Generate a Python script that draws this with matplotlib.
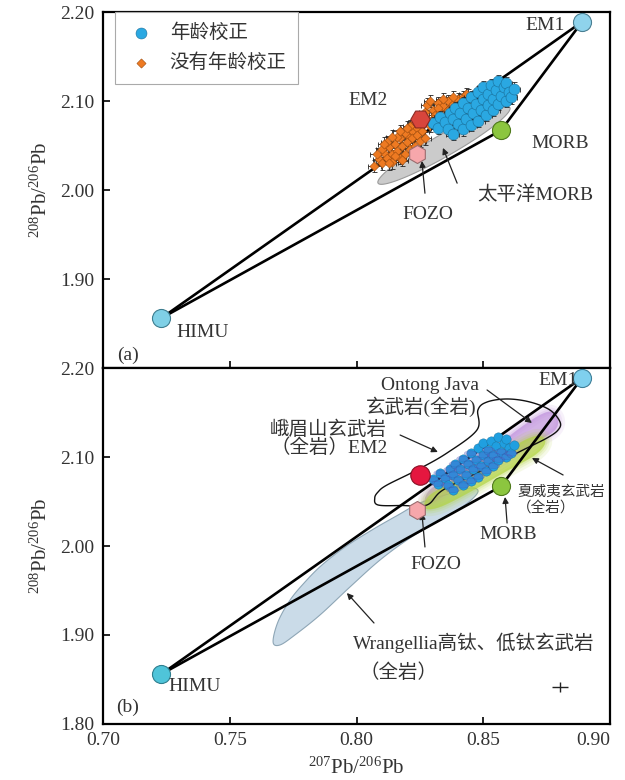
import numpy as np
import matplotlib.pyplot as plt
from matplotlib.patches import Polygon, Ellipse

plt.rcParams['font.family'] = ['Liberation Serif', 'Noto Sans CJK SC']
plt.rcParams['mathtext.fontset'] = 'custom'
plt.rcParams['mathtext.rm'] = 'Liberation Serif'
plt.rcParams['mathtext.it'] = 'Liberation Serif:italic'

TXT = '#333333'

# end members (207Pb/206Pb, 208Pb/206Pb)
em1 = (0.889, 2.189)
himu = (0.723, 1.856)
morb = (0.857, 2.067)
em2 = (0.825, 2.080)
fozo = (0.824, 2.041)

# samples without age correction
raw_x = [0.807, 0.809, 0.810, 0.811, 0.812, 0.813, 0.814, 0.814, 0.815, 0.816,
         0.817, 0.817, 0.818, 0.819, 0.820, 0.820, 0.821, 0.822, 0.822, 0.823,
         0.824, 0.824, 0.825, 0.826, 0.826, 0.827, 0.828, 0.828, 0.829, 0.830,
         0.831, 0.832, 0.833, 0.834, 0.835, 0.836, 0.837, 0.838, 0.839, 0.840,
         0.841, 0.842, 0.843, 0.844, 0.845, 0.846,
         0.808, 0.810, 0.812, 0.813, 0.815, 0.816, 0.818, 0.819, 0.821, 0.823,
         0.825, 0.827, 0.829, 0.830, 0.832, 0.834, 0.836, 0.838, 0.840, 0.843,
         0.845, 0.811, 0.814, 0.817, 0.820, 0.823]
raw_y = [2.027, 2.035, 2.030, 2.042, 2.036, 2.048, 2.031, 2.040, 2.052, 2.044,
         2.036, 2.058, 2.049, 2.040, 2.062, 2.054, 2.046, 2.066, 2.058, 2.050,
         2.070, 2.062, 2.055, 2.074, 2.066, 2.088, 2.080, 2.096, 2.072, 2.090,
         2.084, 2.098, 2.088, 2.094, 2.083, 2.100, 2.092, 2.097, 2.088, 2.102,
         2.095, 2.104, 2.098, 2.106, 2.100, 2.103,
         2.040, 2.046, 2.054, 2.030, 2.038, 2.060, 2.034, 2.064, 2.072, 2.042,
         2.078, 2.058, 2.100, 2.080, 2.092, 2.102, 2.090, 2.104, 2.094, 2.108,
         2.094, 2.052, 2.060, 2.066, 2.070, 2.076]

# age corrected samples
cor_x = [0.830, 0.832, 0.833, 0.835, 0.836, 0.837, 0.838, 0.838, 0.839, 0.840,
         0.841, 0.842, 0.842, 0.843, 0.844, 0.845, 0.845, 0.846, 0.847, 0.848,
         0.848, 0.849, 0.850, 0.850, 0.851, 0.852, 0.852, 0.853, 0.854, 0.854,
         0.855, 0.856, 0.856, 0.857, 0.858, 0.859, 0.859, 0.860, 0.861, 0.862]
cor_y = [2.075, 2.070, 2.082, 2.076, 2.068, 2.086, 2.063, 2.080, 2.092, 2.074,
         2.086, 2.068, 2.098, 2.080, 2.092, 2.073, 2.104, 2.086, 2.097, 2.078,
         2.110, 2.090, 2.102, 2.116, 2.084, 2.096, 2.108, 2.118, 2.090, 2.102,
         2.112, 2.122, 2.097, 2.106, 2.116, 2.100, 2.120, 2.110, 2.104, 2.114]

# comparison fields (outlines)
emeishan = [(0.8085, 2.0461), (0.8072, 2.0539), (0.8085, 2.0607), (0.8120, 2.0685),
            (0.8239, 2.0854), (0.8357, 2.1045), (0.8475, 2.1303), (0.8479, 2.1528),
            (0.8515, 2.1618), (0.8594, 2.1652), (0.8684, 2.1618), (0.8763, 2.1528),
            (0.8803, 2.1393), (0.8795, 2.1303), (0.8751, 2.1213), (0.8657, 2.1079),
            (0.8499, 2.0854), (0.8341, 2.0629), (0.8278, 2.0461), (0.8180, 2.0455)]
ontong = [(0.8270, 2.0517), (0.8298, 2.0652), (0.8408, 2.0854), (0.8546, 2.1112),
          (0.8645, 2.1326), (0.8724, 2.1472), (0.8771, 2.1506), (0.8795, 2.1416),
          (0.8783, 2.1303), (0.8724, 2.1191), (0.8606, 2.1000), (0.8487, 2.0798),
          (0.8369, 2.0607), (0.8298, 2.0483)]
hawaii = [(0.8270, 2.0427), (0.8290, 2.0573), (0.8408, 2.0764), (0.8546, 2.0989),
          (0.8665, 2.1191), (0.8724, 2.1236), (0.8744, 2.1157), (0.8704, 2.1022),
          (0.8586, 2.0831), (0.8448, 2.0607), (0.8329, 2.0438)]
wrangellia = [(0.7671, 1.8921), (0.7690, 1.9146), (0.7738, 1.9393), (0.7797, 1.9596),
              (0.7864, 1.9787), (0.7955, 1.9989), (0.8061, 2.0180), (0.8164, 2.0348),
              (0.8250, 2.0483), (0.8349, 2.0573), (0.8448, 2.0652), (0.8479, 2.0607),
              (0.8428, 2.0461), (0.8329, 2.0292), (0.8211, 2.0090), (0.8093, 1.9843),
              (0.7974, 1.9539), (0.7856, 1.9225), (0.7757, 1.9000), (0.7698, 1.8888)]
pac_morb = [(0.8085, 2.0077), (0.8605, 2.0926)]

fig = plt.figure(figsize=(6.25, 7.8), dpi=100)
ax1 = fig.add_axes([0.1648, 0.5282, 0.8112, 0.4564])
ax2 = fig.add_axes([0.1648, 0.0718, 0.8112, 0.4564])

for ax in (ax1, ax2):
    ax.set_xlim(0.70, 0.90)
    ax.set_ylim(1.80, 2.20)
    ax.set_xticks([0.70, 0.75, 0.80, 0.85, 0.90])
    ax.set_yticks([1.80, 1.90, 2.00, 2.10, 2.20])
    ax.tick_params(direction='in', length=5, width=1.2, labelsize=14,
                   labelcolor=TXT, pad=6)
    for s in ax.spines.values():
        s.set_linewidth(1.6)
    ax.set_ylabel(r'$^{208}$Pb/$^{206}$Pb', fontsize=15, color=TXT, labelpad=6)

ax1.set_yticklabels(['', '1.90', '2.00', '2.10', '2.20'])
ax1.set_xticklabels([])
ax2.set_yticklabels(['1.80', '1.90', '2.00', '2.10', '2.20'])
ax2.set_xticklabels(['0.70', '0.75', '0.80', '0.85', '0.90'])
ax2.get_xticklabels()[-1].set_ha('right')
ax2.set_xlabel(r'$^{207}$Pb/$^{206}$Pb', fontsize=15, color=TXT, labelpad=6)


def smooth(pts, n=14):
    # closed Catmull-Rom curve through the outline points
    p = np.asarray(pts)
    N = len(p)
    t = np.linspace(0, 1, n, endpoint=False)[:, None]
    out = []
    for i in range(N):
        p0, p1, p2, p3 = p[i - 1], p[i], p[(i + 1) % N], p[(i + 2) % N]
        out.append(0.5 * (2 * p1 + (-p0 + p2) * t
                          + (2 * p0 - 5 * p1 + 4 * p2 - p3) * t ** 2
                          + (-p0 + 3 * p1 - 3 * p2 + p3) * t ** 3))
    return np.vstack(out)


def ellipse_poly(ax, p0, p1, half_w, n=120):
    # ellipse between two data points, thickness given in pixels
    a, b = ax.transData.transform([p0, p1])
    c = (a + b) / 2
    d = b - a
    L = np.hypot(*d)
    u = d / L
    v = np.array([-u[1], u[0]])
    t = np.linspace(0, 2 * np.pi, n)
    pts = c + np.outer(L / 2 * np.cos(t), u) + np.outer(half_w * np.sin(t), v)
    return ax.transData.inverted().transform(pts)


def soft_field(ax, pts, color, z):
    # fuzzy-edged colour field
    for lw, a in [(10, 0.12), (6, 0.15), (3, 0.2), (0, 0.45)]:
        ax.add_patch(Polygon(smooth(pts), closed=True, facecolor=color,
                             edgecolor=color, lw=lw, alpha=a, zorder=z))


def triangle(ax):
    ax.plot([himu[0], em1[0]], [himu[1], em1[1]], color='k', lw=1.9, zorder=4)
    ax.plot([himu[0], morb[0], em1[0]], [himu[1], morb[1], em1[1]],
            color='k', lw=1.9, zorder=4)


def arrow(ax, start, end):
    ax.annotate('', xy=end, xytext=start,
                arrowprops=dict(arrowstyle='-|>', color='#222222', lw=0.9,
                                mutation_scale=9, shrinkA=0, shrinkB=0), zorder=8)


# ---------------- (a) ----------------
ax1.add_patch(Polygon(ellipse_poly(ax1, *pac_morb, 11), closed=True,
                      facecolor='#cbcbcb', edgecolor='#9a9a9a', lw=0.8, zorder=2))
triangle(ax1)

ax1.errorbar(raw_x, raw_y, xerr=0.0025, yerr=0.007, fmt='none', ecolor='#222222',
             elinewidth=0.6, capsize=1.8, capthick=0.6, zorder=5)
ax1.scatter(raw_x, raw_y, s=22, marker='D', color='#ee7a22', edgecolor='#9c4a0c',
            linewidth=0.4, zorder=6, label='没有年龄校正')
ax1.errorbar(cor_x, cor_y, xerr=0.0025, yerr=0.007, fmt='none', ecolor='#222222',
             elinewidth=0.6, capsize=1.8, capthick=0.6, zorder=6)
ax1.scatter(cor_x, cor_y, s=62, marker='o', color='#2aa8e2', edgecolor='#1a6f9a',
            linewidth=0.4, zorder=7, label='年龄校正')

ax1.plot(*em1, 'o', ms=13, mfc='#8fd3ec', mec='#4a7f92', mew=0.8, zorder=9)
ax1.plot(*himu, 'o', ms=13, mfc='#7fd0e6', mec='#3d7d8f', mew=0.8, zorder=9)
ax1.plot(*morb, 'o', ms=13, mfc='#8cc63f', mec='#4f7a1c', mew=0.8, zorder=9)
ax1.plot(*em2, 'H', ms=14, mfc='#d8453c', mec='#8a2a24', mew=0.8, zorder=9)
ax1.plot(*fozo, 'h', ms=13, mfc='#f6a7ab', mec='#9a6c6e', mew=0.8, zorder=9)

tk = dict(fontsize=14, color=TXT, ha='center', va='center', zorder=10)
ax1.text(0.8744, 2.1853, 'EM1', **tk)
ax1.text(0.8045, 2.1005, 'EM2', **tk)
ax1.text(0.8803, 2.0518, 'MORB', **tk)
ax1.text(0.7394, 1.8403, 'HIMU', **tk)
ax1.text(0.8707, 1.9953, '太平洋MORB', **tk)
ax1.text(0.8282, 1.9727, 'FOZO', **tk)
ax1.text(0.7099, 1.8143, '(a)', **tk)
arrow(ax1, (0.8397, 2.0077), (0.8341, 2.0473))
arrow(ax1, (0.8270, 1.9964), (0.8258, 2.0326))

h, l = ax1.get_legend_handles_labels()
leg = ax1.legend(h[::-1], l[::-1], loc='upper left', bbox_to_anchor=(0.024, 1.0),
                 borderaxespad=0, fancybox=False, edgecolor='#aaaaaa',
                 framealpha=1, fontsize=14, handletextpad=0.7, borderpad=0.6,
                 labelspacing=0.6, handlelength=1.5, scatterpoints=1)
leg.get_frame().set_linewidth(0.8)
for t in leg.get_texts():
    t.set_color(TXT)

# ---------------- (b) ----------------
ax2.add_patch(Polygon(smooth(wrangellia), closed=True, facecolor='#cadbe8',
                      edgecolor='#8ea6b6', lw=0.8, zorder=1))
soft_field(ax2, ontong, '#bf8fdc', 2)
soft_field(ax2, hawaii, '#b2d43e', 2)
ax2.add_patch(Polygon(smooth(emeishan), closed=True, facecolor='none',
                      edgecolor='#111111', lw=1.0, zorder=3))
triangle(ax2)

ax2.scatter(cor_x, cor_y, s=45, marker='o', color='#1f9fe0', edgecolor='#1a6f9a',
            linewidth=0.3, zorder=5)
for x, y in zip(cor_x, cor_y):
    if y < 2.110:
        ax2.add_patch(Ellipse((x, y), 0.005, 0.006, angle=0, facecolor='#5a5fc8',
                              edgecolor='#3f44a8', lw=0.4, alpha=0.35, zorder=6))

ax2.plot(*em1, 'o', ms=13, mfc='#7fd0ee', mec='#3f7f98', mew=0.8, zorder=9)
ax2.plot(*himu, 'o', ms=13, mfc='#4fc4d9', mec='#2f7f8f', mew=0.8, zorder=9)
ax2.plot(*morb, 'o', ms=13, mfc='#8cc63f', mec='#4f7a1c', mew=0.8, zorder=9)
ax2.plot(*em2, 'o', ms=14, mfc='#e5173f', mec='#8a1024', mew=0.8, zorder=9)
ax2.plot(*fozo, 'h', ms=13, mfc='#f6a7ab', mec='#9a6c6e', mew=0.8, zorder=9)

ax2.errorbar([0.8803], [1.8416], xerr=0.003, yerr=0.006, fmt='none',
             ecolor='#222222', elinewidth=1.0, capsize=0, zorder=9)

ax2.text(0.8795, 2.1865, 'EM1', **tk)
ax2.text(0.8290, 2.1809, 'Ontong Java', **tk)
ax2.text(0.8254, 2.1562, '玄武岩(全岩)', **tk)
ax2.text(0.7888, 2.1303, '峨眉山玄武岩', **tk)
ax2.text(0.7892, 2.1101, '（全岩）EM2', **tk)
ax2.text(0.8807, 2.0607, '夏威夷玄武岩', fontsize=10.5, color=TXT, ha='center',
         va='center', zorder=10)
ax2.text(0.8748, 2.0427, '（全岩）', fontsize=10.5, color=TXT, ha='center',
         va='center', zorder=10)
ax2.text(0.8598, 2.0124, 'MORB', **tk)
ax2.text(0.8314, 1.9787, 'FOZO', **tk)
ax2.text(0.8464, 1.8910, 'Wrangellia高钛、低钛玄武岩', **tk)
ax2.text(0.8164, 1.8573, '（全岩）', **tk)
ax2.text(0.7363, 1.8416, 'HIMU', **tk)
ax2.text(0.7095, 1.8190, '(b)', **tk)

arrow(ax2, (0.8515, 2.1753), (0.8692, 2.1382))
arrow(ax2, (0.8172, 2.1247), (0.8321, 2.1056))
arrow(ax2, (0.8815, 2.0798), (0.8692, 2.0989))
arrow(ax2, (0.8594, 2.0258), (0.8586, 2.0551))
arrow(ax2, (0.8270, 1.9989), (0.8258, 2.0371))
arrow(ax2, (0.8069, 1.9135), (0.7962, 1.9472))

fig.savefig('out.png', dpi=100)
